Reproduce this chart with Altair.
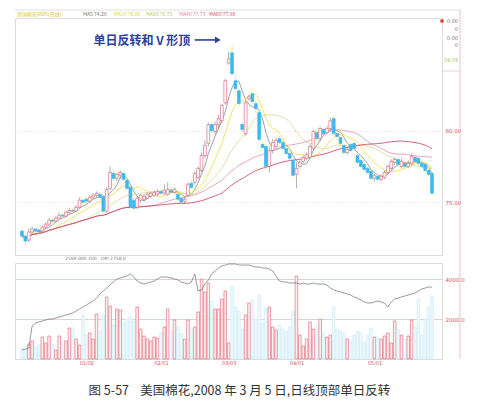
import altair as alt
import pandas as pd
import numpy as np

OPEN = [72.99, 72.64, 72.36, 72.92, 73.13, 73.06, 72.99, 73.26, 73.47, 73.75,
        73.68, 73.89, 74.10, 74.03, 74.31, 74.44, 74.38, 74.65, 75.14, 75.21,
        75.07, 75.35, 75.49, 75.56, 75.42, 74.38, 75.97, 77.01, 76.67, 76.88,
        77.01, 76.53, 76.04, 75.14, 74.65, 75.14, 75.21, 75.28, 75.42, 75.49,
        75.56, 75.76, 75.63, 75.56, 75.83, 75.69, 75.56, 75.28, 75.07, 75.49,
        76.32, 76.39, 76.74, 77.22, 78.26, 79.10, 80.42, 79.93, 80.42, 80.69,
        81.94, 84.72, 85.42, 83.47, 82.78, 80.42, 79.79, 82.22, 82.57, 81.88,
        81.25, 79.03, 78.89, 77.50, 78.61, 78.89, 79.44, 79.17, 78.75, 78.40,
        77.92, 76.94, 77.50, 77.85, 78.06, 78.13, 78.75, 79.86, 79.44, 80.07,
        79.86, 80.14, 80.83, 79.79, 79.51, 78.96, 78.47, 79.03, 79.10, 78.26,
        77.92, 77.64, 77.36, 77.15, 76.67, 76.81, 76.60, 76.74, 77.08, 77.36,
        77.78, 77.99, 77.50, 77.71, 77.50, 77.71, 78.13, 78.06, 77.71, 77.64,
        77.22, 77.01]
HIGH = [73.13, 72.78, 73.19, 73.33, 73.26, 73.19, 73.40, 73.61, 73.89, 73.89,
        74.03, 74.24, 74.24, 74.44, 74.58, 74.58, 74.79, 75.35, 75.28, 75.42,
        75.49, 75.63, 75.76, 75.69, 75.49, 76.04, 77.50, 77.22, 77.08, 77.22,
        77.15, 76.74, 76.11, 75.28, 75.42, 75.56, 75.56, 75.69, 75.76, 75.83,
        75.90, 75.90, 76.25, 76.39, 76.04, 76.04, 75.69, 75.42, 75.42, 76.39,
        76.53, 77.15, 77.50, 78.47, 79.31, 80.56, 80.56, 80.63, 81.11, 81.88,
        83.61, 85.49, 85.90, 83.75, 82.92, 80.56, 82.08, 82.50, 82.71, 82.08,
        81.39, 79.17, 79.03, 78.82, 79.44, 79.51, 79.65, 79.31, 78.89, 78.54,
        78.06, 77.78, 77.92, 78.26, 78.47, 79.03, 80.07, 80.00, 80.28, 80.21,
        80.35, 80.90, 81.04, 79.93, 79.65, 79.10, 78.89, 79.17, 79.24, 78.40,
        78.06, 77.78, 77.50, 77.29, 77.01, 76.94, 76.94, 77.22, 77.64, 77.99,
        78.13, 78.13, 78.06, 77.85, 77.92, 78.40, 78.26, 78.19, 77.92, 77.78,
        77.36, 77.15]
LOW = [72.50, 71.94, 72.22, 72.78, 72.85, 72.78, 72.92, 73.13, 73.33, 73.54,
       73.61, 73.82, 73.89, 73.96, 74.17, 74.24, 74.31, 74.58, 74.86, 74.93,
       74.93, 75.21, 75.35, 75.21, 74.24, 74.24, 75.83, 76.53, 76.46, 76.60,
       76.46, 75.83, 74.51, 74.44, 74.51, 75.00, 75.07, 75.21, 75.28, 75.35,
       75.42, 75.49, 75.49, 75.42, 75.56, 75.56, 75.07, 74.86, 74.86, 75.35,
       75.90, 76.25, 76.60, 77.08, 78.06, 78.89, 79.86, 79.72, 80.14, 80.49,
       81.81, 84.58, 83.89, 82.71, 81.74, 79.93, 79.65, 82.08, 81.88, 81.25,
       79.24, 78.68, 77.22, 77.08, 78.40, 78.75, 79.03, 78.61, 78.33, 77.92,
       76.74, 75.97, 77.36, 77.71, 77.92, 77.99, 78.61, 79.31, 79.24, 79.65,
       79.72, 80.00, 79.65, 79.44, 78.96, 78.33, 78.33, 78.47, 78.61, 77.64,
       77.36, 77.15, 76.94, 76.53, 76.46, 76.46, 76.46, 76.60, 76.94, 77.22,
       77.57, 77.50, 77.36, 77.36, 77.36, 77.57, 77.71, 77.57, 77.36, 77.08,
       76.81, 75.49]
CLOSE = [72.64, 72.29, 72.92, 73.13, 72.99, 72.92, 73.26, 73.47, 73.75, 73.68,
         73.89, 74.10, 74.03, 74.31, 74.44, 74.38, 74.65, 75.14, 75.00, 75.07,
         75.35, 75.49, 75.63, 75.35, 74.38, 75.90, 77.08, 76.67, 76.94, 77.08,
         76.60, 75.97, 74.65, 74.58, 75.28, 75.49, 75.42, 75.56, 75.63, 75.69,
         75.76, 75.63, 75.83, 75.90, 75.69, 75.90, 75.21, 75.00, 75.21, 76.25,
         76.04, 77.01, 77.36, 78.26, 78.96, 80.42, 80.00, 80.42, 80.83, 81.74,
         83.47, 85.00, 83.96, 82.92, 81.88, 80.07, 81.94, 82.36, 82.01, 81.53,
         79.38, 78.82, 77.50, 78.61, 79.17, 79.31, 79.17, 78.75, 78.40, 78.06,
         76.88, 77.36, 77.78, 78.13, 78.33, 78.89, 79.93, 79.44, 80.14, 79.79,
         80.14, 80.69, 79.79, 79.58, 79.10, 78.47, 78.68, 78.61, 78.75, 77.78,
         77.50, 77.29, 77.08, 76.67, 76.88, 76.60, 76.81, 77.08, 77.50, 77.85,
         77.99, 77.64, 77.85, 77.50, 77.71, 78.19, 77.85, 77.71, 77.50, 77.22,
         76.94, 75.63]
VOLUME = [550, 500, 750, 900, 600, 700, 1100, 800, 1150, 700,
          450, 1150, 800, 900, 1550, 1550, 1000, 700, 2200, 1200,
          1300, 1000, 2250, 1400, 2200, 3100, 2650, 1700, 2500, 2450,
          1800, 2000, 2100, 1900, 2600, 1500, 1150, 1000, 900, 1100,
          1050, 1300, 1600, 2500, 1400, 1950, 1600, 1300, 1000, 1950,
          1500, 1600, 2350, 4000, 3350, 3800, 2900, 2500, 2500, 3000,
          3400, 800, 3600, 2600, 2400, 1500, 2200, 2800, 2950, 2000,
          3200, 1800, 2550, 2600, 1600, 1450, 1700, 1500, 1400, 1600,
          2400, 4150, 1200, 650, 1000, 1850, 1500, 1700, 2000, 1300,
          1100, 1200, 2600, 1500, 1400, 1300, 1000, 900, 1200, 1400,
          1300, 850, 1200, 1550, 1100, 1050, 1000, 1150, 1300, 800,
          1900, 1500, 1200, 1000, 1150, 1950, 1600, 3000, 1200, 2000,
          2600, 3100]
OPEN_INTEREST_K = [9, 10, 11, 33, 36, 37, 38, 39, 40, 40,
                   41, 42, 43, 44, 45, 46, 48, 50, 52, 54,
                   56, 58, 61, 65, 68, 71, 74, 77, 80, 81,
                   82, 83, 85, 82, 78, 76, 75, 76, 77, 78,
                   80, 82, 82, 82, 81, 80, 79, 77, 76, 75,
                   77, 85, 68, 69, 75, 79, 85, 88, 91, 93,
                   94, 95, 95, 95, 94, 94, 94, 94, 93, 92,
                   92, 91, 91, 90, 88, 83, 78, 77, 77, 76,
                   76, 76, 75, 76, 75, 75, 76, 75, 75, 75,
                   74, 71, 69, 68, 67, 66, 65, 64, 62, 61,
                   59, 57, 56, 56, 57, 58, 57, 56, 52, 57,
                   60, 61, 62, 63, 64, 65, 66, 68, 70, 71,
                   72, 72]

TICK_INDEX = [19, 41, 61, 81, 104]
TICK_LABELS = ["01/02", "02/01", "03/03", "04/01", "05/01"]
MA_NAMES = ["MA5", "MA10", "MA20", "MA40", "MA60"]
MA_WINDOWS = [5, 10, 20, 40, 60]
MA_COLORS = ["#8c8c8c", "#f0dc3c", "#d8d890", "#e090b0", "#c83c55"]
HEADER_TEXTS = ["美国棉花0805(日线)", "MA5 74.29", "MA10 76.06", "MA20 76.75", "MA40 77.73", "MA60 77.98"]
HEADER_COLORS = ["#e0c820", "#777777", "#e6d23c", "#b8c860", "#e080a8", "#e04860"]
SIDE_TEXTS = ["0.00", "0", "0.00", "0", "74.79"]
SIDE_COLORS = ["#777777", "#777777", "#777777", "#777777", "#8cc850"]
VOL_HEADER = ["2169.000 100", "OPI  2758.0"]
ANNOTATION = "单日反转和 V 形顶"
CAPTION = "图 5-57\u00a0\u00a0\u00a0\u00a0美国棉花,2008 年 3 月 5 日,日线顶部单日反转"
PRICE_TICKS = [75, 80]
VOL_TICKS = [2000, 4000]

df = pd.DataFrame({
    "i": list(range(len(CLOSE))),
    "open": OPEN, "high": HIGH, "low": LOW, "close": CLOSE,
    "vol": VOLUME, "oi": OPEN_INTEREST_K,
})
df["dir"] = np.where(df["close"] >= df["open"], "up", "down")
df["vdir"] = np.where(df["close"] >= df["open"], "vup", "vdown")

W, H_MAIN, H_VOL = 427, 237, 96
x_scale = alt.Scale(domain=[-0.58, 122.48], nice=False, zero=False)
price_scale = alt.Scale(domain=[71.32, 87.85], nice=False, zero=False)
fill_scale = alt.Scale(domain=["up", "down"], range=["#ffffff", "#3cb9ee"])
stroke_scale = alt.Scale(domain=["up", "down"], range=["#d9707f", "#3cb9ee"])
FONT = "DejaVu Sans"

base = alt.Chart(df)
xq = alt.X("i:Q", scale=x_scale, axis=None)

wicks = base.mark_rule(strokeWidth=0.7).encode(
    x=xq,
    y=alt.Y("low:Q", scale=price_scale,
            axis=alt.Axis(orient="right", values=PRICE_TICKS, format=".2f", labelColor="#d85060",
                          labelFontSize=5.5, labelFont=FONT, ticks=False, domain=False, grid=True,
                          gridColor="#eec4cc", gridDash=[1, 2], gridWidth=0.7, labelPadding=3, title=None)),
    y2="high:Q",
    color=alt.Color("dir:N", scale=stroke_scale, legend=None),
)
bodies = base.mark_bar(size=2.8, strokeWidth=0.7).encode(
    x=xq,
    y=alt.Y("open:Q", scale=price_scale),
    y2="close:Q",
    fill=alt.Fill("dir:N", scale=fill_scale, legend=None),
    stroke=alt.Stroke("dir:N", scale=stroke_scale, legend=None),
)

ma_chart = base
for n, w in zip(MA_NAMES, MA_WINDOWS):
    ma_chart = ma_chart.transform_window(**{n: "mean(close)"}, frame=[-(w - 1), 0], sort=[alt.SortField("i")])
ma_lines = ma_chart.transform_fold(MA_NAMES, as_=["ma", "value"]).mark_line(strokeWidth=0.8).encode(
    x=xq,
    y=alt.Y("value:Q", scale=price_scale),
    color=alt.Color("ma:N", scale=alt.Scale(domain=MA_NAMES, range=MA_COLORS), legend=None),
    order="i:Q",
)

ann_df = pd.DataFrame({"i": [35.4], "p": [86.25], "t": [ANNOTATION]})
ann_text = alt.Chart(ann_df).mark_text(font="Noto Sans CJK SC", fontSize=12, fontWeight="bold",
                                       color="#2b3f9c").encode(
    x=alt.X("i:Q", scale=x_scale), y=alt.Y("p:Q", scale=price_scale), text="t:N")
arrow_df = pd.DataFrame({"a": [51.0], "b": [57.8], "p": [86.32]})
arrow_line = alt.Chart(arrow_df).mark_rule(color="#2b3f9c", strokeWidth=1.6).encode(
    x=alt.X("a:Q", scale=x_scale), x2="b:Q", y=alt.Y("p:Q", scale=price_scale))
arrow_head = alt.Chart(arrow_df).mark_point(shape="triangle-right", filled=True, size=45,
                                            color="#2b3f9c", opacity=1).encode(
    x=alt.X("b:Q", scale=x_scale), y=alt.Y("p:Q", scale=price_scale))

header_x = [2, 68, 99, 131, 164, 194]
extra_layers = []
for t, c, hx in zip(HEADER_TEXTS, HEADER_COLORS, header_x):
    extra_layers.append(
        alt.Chart(pd.DataFrame({"t": [t]})).mark_text(align="left", baseline="middle", fontSize=5,
                                                        font="Noto Sans CJK SC", color=c).encode(
            x=alt.value(hx), y=alt.value(-4), text="t:N"))
for t, c, sy in zip(SIDE_TEXTS, SIDE_COLORS, [3, 11, 20, 27, 42]):
    extra_layers.append(
        alt.Chart(pd.DataFrame({"t": [t]})).mark_text(align="right", baseline="middle", fontSize=5,
                                                        font=FONT, color=c).encode(
            x=alt.value(443), y=alt.value(sy), text="t:N"))
marker = alt.Chart(pd.DataFrame({"k": [0]})).mark_square(size=10, color="#e83030", opacity=1).encode(
    x=alt.value(427), y=alt.value(3))
frame_top = alt.Chart(pd.DataFrame({"k": [0]})).mark_rule(color="#d8d8d8", strokeWidth=0.8).encode(
    x=alt.value(0), x2=alt.value(446), y=alt.value(-8))
frame_right = alt.Chart(pd.DataFrame({"k": [0]})).mark_rule(color="#e4b0b8", strokeWidth=0.8).encode(
    x=alt.value(445), y=alt.value(-8), y2=alt.value(H_MAIN))
side_rule = alt.Chart(pd.DataFrame({"k": [0]})).mark_rule(color="#e4b0b8", strokeWidth=0.6).encode(
    x=alt.value(427), x2=alt.value(445), y=alt.value(53))

main = alt.layer(ma_lines, wicks, bodies, ann_text, arrow_line, arrow_head, frame_top, frame_right,
                 side_rule, marker, *extra_layers).properties(width=W, height=H_MAIN)

label_expr = " : ".join(f"datum.value == {v} ? '{l}'" for v, l in zip(TICK_INDEX, TICK_LABELS)) + " : ''"
vol_bars = base.mark_bar(size=2.6, strokeWidth=0.6).encode(
    x=alt.X("i:Q", scale=x_scale,
            axis=alt.Axis(values=TICK_INDEX, labelExpr=label_expr, labelColor="#d85060", labelFontSize=5,
                          labelFont=FONT, ticks=False, domain=False, grid=False, labelPadding=1, title=None)),
    y=alt.Y("vol:Q", scale=alt.Scale(domain=[0, 4800], nice=False),
            axis=alt.Axis(orient="right", values=VOL_TICKS, format=".1f", labelColor="#d85060",
                          labelFontSize=5.5, labelFont=FONT, ticks=False, domain=False, grid=True,
                          gridColor="#c9b4b8", gridWidth=0.6, labelPadding=3, title=None)),
    fill=alt.Fill("vdir:N", scale=alt.Scale(domain=["vup", "vdown"], range=["#fdeef0", "#eef9fd"]), legend=None),
    stroke=alt.Stroke("vdir:N", scale=alt.Scale(domain=["vup", "vdown"], range=["#e06070", "#c8eaf7"]), legend=None),
)
oi_line = base.mark_line(color="#6e6e6e", strokeWidth=0.7).encode(
    x=alt.X("i:Q", scale=x_scale),
    y=alt.Y("oi:Q", scale=alt.Scale(domain=[0, 96], nice=False), axis=None),
)
vol_head = []
for t, hx in zip(VOL_HEADER, [50, 86]):
    vol_head.append(alt.Chart(pd.DataFrame({"t": [t]})).mark_text(align="left", baseline="middle", fontSize=4.5,
                                                                   font=FONT, color="#777").encode(
        x=alt.value(hx), y=alt.value(-4), text="t:N"))
vframe_right = alt.Chart(pd.DataFrame({"k": [0]})).mark_rule(color="#e4b0b8", strokeWidth=0.8).encode(
    x=alt.value(445), y=alt.value(-8), y2=alt.value(H_VOL))

vol = alt.layer(vol_bars, oi_line, vframe_right, *vol_head).resolve_scale(y="independent").properties(
    width=W, height=H_VOL)

chart = alt.vconcat(main, vol, spacing=8, bounds="flush").resolve_scale(
    fill="independent", stroke="independent", color="independent").properties(
    padding={"left": 6, "right": 2, "top": 1, "bottom": 2},
    title=alt.TitleParams(text=CAPTION, orient="bottom", anchor="middle", fontSize=12.5, fontWeight="normal",
                          font="Noto Sans CJK SC", color="#333333", offset=19),
).configure_view(stroke="#e8b8c0", strokeWidth=0.8).configure(background="white")

chart.save("out.html", embed_options={"renderer": "svg", "actions": False})
